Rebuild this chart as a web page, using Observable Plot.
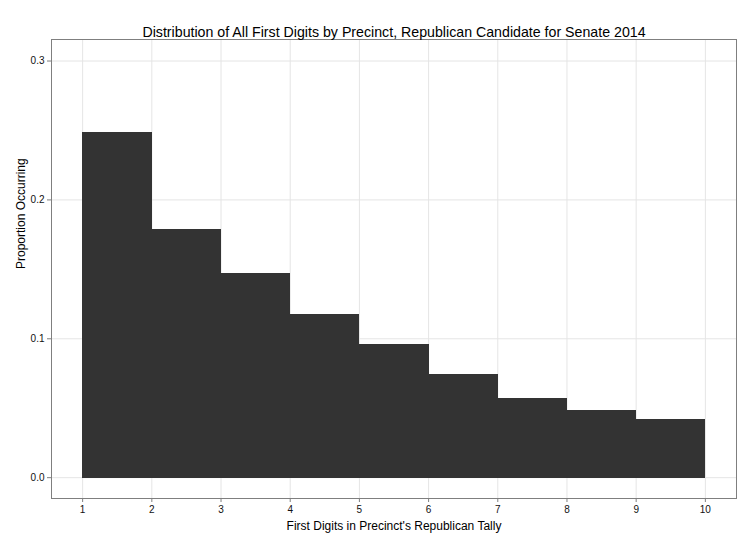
<!DOCTYPE html>
<html>
<head>
<meta charset="utf-8">
<script src="https://cdn.jsdelivr.net/npm/d3@7"></script>
<script src="https://cdn.jsdelivr.net/npm/@observablehq/plot@0.6"></script>
<style>
  html, body { margin: 0; padding: 0; background: #fff; }
  #chart svg { display: block; font-family: "Liberation Sans", Arial, sans-serif; }
</style>
</head>
<body>
<div id="chart"></div>
<script>
const digits = [1, 2, 3, 4, 5, 6, 7, 8, 9];
const proportions = [0.248, 0.178, 0.147, 0.117, 0.0955, 0.074, 0.0565, 0.048, 0.0414];
const xTicks = [1, 2, 3, 4, 5, 6, 7, 8, 9, 10];
const yTicks = [0.0, 0.1, 0.2, 0.3];
const titleText = "Distribution of All First Digits by Precinct, Republican Candidate for Senate 2014";
const xLabel = "First Digits in Precinct's Republican Tally";
const yLabel = "Proportion Occurring";

const data = digits.map((d, i) => ({x1: d, x2: d + 1, p: proportions[i]}));

const chart = Plot.plot({
  width: 756,
  height: 543,
  marginLeft: 51,
  marginRight: 20,
  marginTop: 39,
  marginBottom: 45,
  style: {fontFamily: "Liberation Sans, Arial, sans-serif", background: "#fff"},
  x: {type: "linear", domain: [0.55, 10.45]},
  y: {type: "linear", domain: [-0.015, 0.3155]},
  marks: [
    Plot.gridX(xTicks, {stroke: "#e5e5e5", strokeOpacity: 1, strokeWidth: 1}),
    Plot.gridY(yTicks, {stroke: "#e5e5e5", strokeOpacity: 1, strokeWidth: 1}),
    Plot.rectY(data, {x1: "x1", x2: "x2", y: "p", fill: "#333333", stroke: "#333333", strokeWidth: 1, shapeRendering: "crispEdges"}),
    Plot.frame({stroke: "#7f7f7f", strokeWidth: 1}),
    Plot.axisX(xTicks, {tickSize: 4, tickPadding: 3, fontSize: 10, stroke: "#7f7f7f", fill: "#111", label: null, tickFormat: d => String(d)}),
    Plot.axisY(yTicks, {tickSize: 4, tickPadding: 3, fontSize: 10, stroke: "#7f7f7f", fill: "#111", label: null, tickFormat: d3.format(".1f")}),
    Plot.text([titleText], {frameAnchor: "top", dy: -3, fontSize: 14.2, fill: "#000", lineAnchor: "bottom", text: d => d}),
    Plot.text([xLabel], {frameAnchor: "bottom", dy: 31, fontSize: 12, fill: "#000", lineAnchor: "bottom", text: d => d}),
    Plot.text([yLabel], {frameAnchor: "left", dx: -27, rotate: -90, fontSize: 12, fill: "#000", lineAnchor: "bottom", text: d => d})
  ]
});
document.getElementById("chart").appendChild(chart);
</script>
</body>
</html>
